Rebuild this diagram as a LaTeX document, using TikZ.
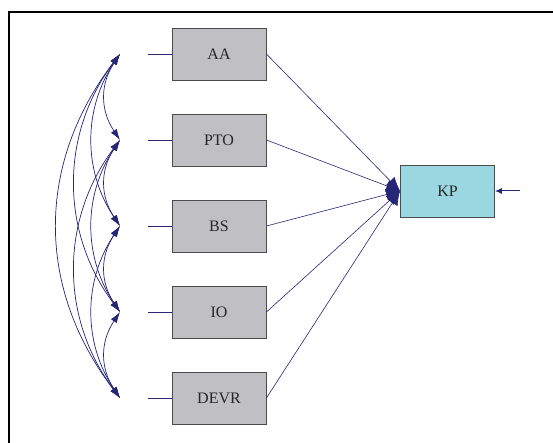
\documentclass[tikz,border=0pt]{standalone}
\usepackage{fontspec}
\setmainfont{Liberation Serif}
\usetikzlibrary{arrows.meta}
\definecolor{semblue}{RGB}{38,38,118}
\definecolor{boxgray}{RGB}{192,192,196}
\definecolor{kpcyan}{RGB}{155,215,225}
\tikzset{
  obsbox/.style={draw=black!70,fill=boxgray,line width=0.9pt,minimum width=94pt,
    minimum height=52pt,inner sep=0pt,text=black!85,font=\fontsize{16}{19}\selectfont},
  cov/.style={semblue,line width=0.7pt,{Latex[length=11pt,width=7pt]}-{Latex[length=11pt,width=7pt]}},
  regline/.style={semblue,line width=0.6pt,-{Latex[length=14pt,width=12pt]}},
  errline/.style={semblue,line width=1pt,-{Latex[length=7pt,width=6pt]}},
}
\begin{document}
\begin{tikzpicture}[x=1pt,y=-1pt]
\useasboundingbox (0,0) rectangle (553,443);
% frame
\draw[line width=2pt] (9,443) -- (9,12) -- (553,12);
% dependent
\node[obsbox,fill=kpcyan] (KP) at (447.5,191) {KP};
\coordinate (eKP) at (520,191);
\draw[errline] (eKP) -- (KP.east);
% exogenous boxes
\foreach \nm/\yy in {AA/54,PTO/140,BS/226,IO/312,DEVR/398}{
  \node[obsbox] (\nm) at (219,\yy) {\nm};
  \coordinate (t\nm) at (148,\yy);
  \coordinate (c\nm) at (120,\yy);
  \draw[semblue,line width=0.7pt] (\nm.west) -- (t\nm);
  \draw[regline] (\nm.east) -- (KP.west);
}
% covariances
\foreach \a/\b/\k/\d in {AA/PTO/20/30,PTO/BS/20/30,BS/IO/20/30,IO/DEVR/20/30,
    AA/BS/37/55,PTO/IO/37/55,BS/DEVR/37/55,AA/IO/60/80,PTO/DEVR/60/80,AA/DEVR/84/110}
  \draw[cov] (c\a) .. controls +(-\k,\d) and +(-\k,-\d) .. (c\b);
\end{tikzpicture}
\end{document}
